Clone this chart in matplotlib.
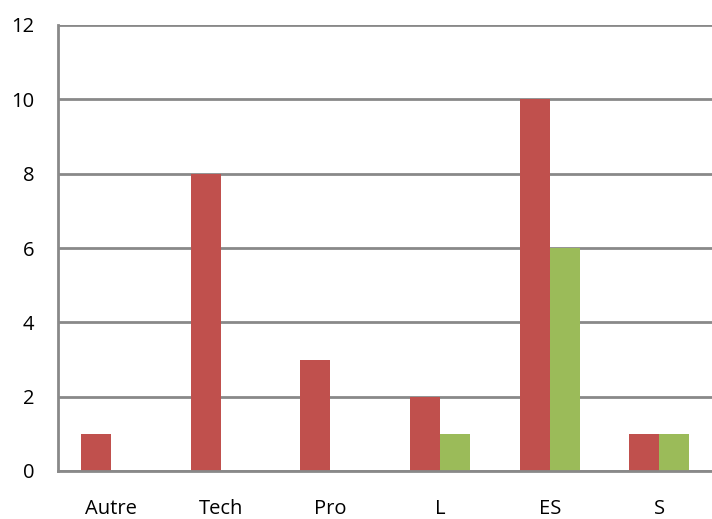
import matplotlib
matplotlib.use("Agg")
import matplotlib.pyplot as plt
import numpy as np

categories = ["Autre", "Tech", "Pro", "L", "ES", "S"]
series_red = [1, 8, 3, 2, 10, 1]
series_green = [0, 0, 0, 1, 6, 1]
yticks = [0, 2, 4, 6, 8, 10, 12]

plt.rcParams['font.family'] = ['Open Sans', 'DejaVu Sans']

W, H = 712, 519
fig = plt.figure(figsize=(W/100, H/100), dpi=100)
left, right, bottom, top = 58, 712, 471, 25
ax = fig.add_axes([left/W, (H-bottom)/H, (right-left)/W, (bottom-top)/H])

cat_w = 109.6
x = np.arange(len(categories))
bw = 30/cat_w
ax.bar(x - bw/2, series_red, width=bw, color="#C0504D", zorder=3)
ax.bar(x + bw/2, series_green, width=bw, color="#9BBB59", zorder=3)

x0 = -0.5 + 1.5/cat_w
ax.set_xlim(x0, x0 + (right-left)/cat_w)
ax.set_ylim(0, 12)
ax.set_yticks(yticks)
ax.set_xticks(x)
ax.set_xticklabels(categories)
gc = "#898989"
ax.yaxis.grid(True, color=gc, linewidth=2.0, zorder=1)
ax.set_axisbelow(True)
for s in ["top", "right"]:
    ax.spines[s].set_visible(False)
for s in ["left", "bottom"]:
    ax.spines[s].set_color(gc)
    ax.spines[s].set_linewidth(2.0)
    ax.spines[s].set_zorder(4)
ax.tick_params(axis='both', length=0, labelsize=14.5, colors="black")
ax.tick_params(axis='y', pad=17)
ax.tick_params(axis='x', pad=20)

fig.savefig("out.png", dpi=100)
